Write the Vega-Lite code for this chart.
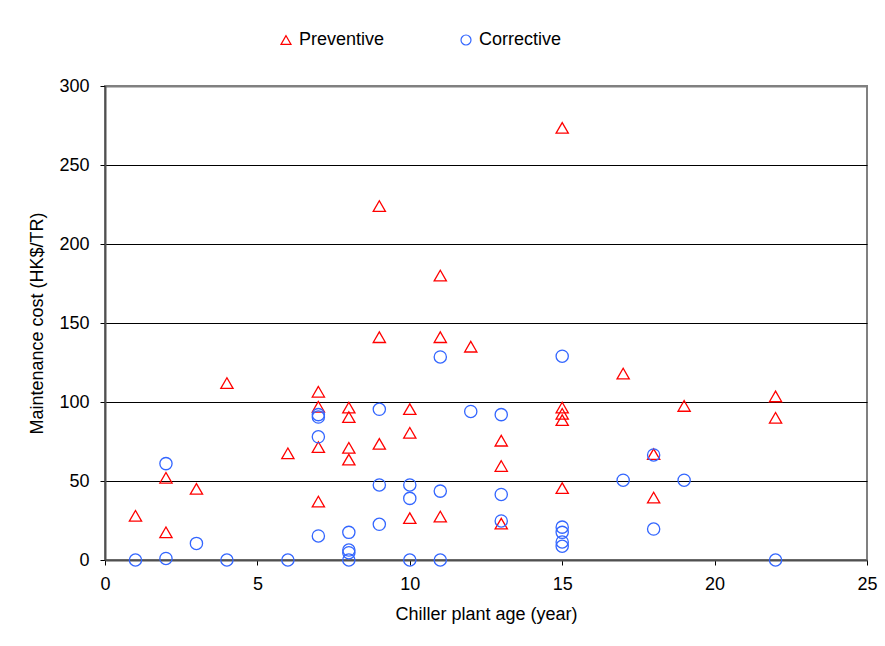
{
  "$schema": "https://vega.github.io/schema/vega-lite/v6.json",
  "width": 762,
  "height": 474,
  "autosize": {"type": "none"},
  "padding": {"left": 105, "top": 86, "right": 18, "bottom": 86},
  "background": "white",
  "config": {
    "font": "Liberation Sans",
    "view": {"stroke": "#808080", "strokeWidth": 2},
    "axis": {
      "labelFont": "Liberation Sans",
      "titleFont": "Liberation Sans",
      "labelFontSize": 18,
      "titleFontSize": 18,
      "labelColor": "black",
      "titleColor": "black",
      "titleFontWeight": "normal",
      "tickColor": "black",
      "tickSize": 5,
      "domainColor": "#505050",
      "domainWidth": 2,
      "labelFlush": false
    },
    "legend": {
      "orient": "none",
      "direction": "horizontal",
      "legendX": 172,
      "legendY": -55,
      "labelFont": "Liberation Sans",
      "labelFontSize": 18,
      "labelColor": "black",
      "symbolSize": 100,
      "symbolStrokeWidth": 1.2,
      "columnPadding": 72,
      "labelOffset": 4,
      "title": null
    }
  },
  "data": {
    "values": [
      {"age": 1, "cost": 28, "type": "Preventive"},
      {"age": 2, "cost": 52, "type": "Preventive"},
      {"age": 2, "cost": 17.5, "type": "Preventive"},
      {"age": 3, "cost": 45, "type": "Preventive"},
      {"age": 4, "cost": 112, "type": "Preventive"},
      {"age": 6, "cost": 67.5, "type": "Preventive"},
      {"age": 7, "cost": 106.5, "type": "Preventive"},
      {"age": 7, "cost": 97, "type": "Preventive"},
      {"age": 7, "cost": 71.5, "type": "Preventive"},
      {"age": 7, "cost": 37, "type": "Preventive"},
      {"age": 8, "cost": 96.5, "type": "Preventive"},
      {"age": 8, "cost": 90.5, "type": "Preventive"},
      {"age": 8, "cost": 71, "type": "Preventive"},
      {"age": 8, "cost": 63.5, "type": "Preventive"},
      {"age": 9, "cost": 224, "type": "Preventive"},
      {"age": 9, "cost": 141, "type": "Preventive"},
      {"age": 9, "cost": 73.5, "type": "Preventive"},
      {"age": 10, "cost": 95.5, "type": "Preventive"},
      {"age": 10, "cost": 80.5, "type": "Preventive"},
      {"age": 10, "cost": 26.5, "type": "Preventive"},
      {"age": 11, "cost": 180, "type": "Preventive"},
      {"age": 11, "cost": 141, "type": "Preventive"},
      {"age": 11, "cost": 27.5, "type": "Preventive"},
      {"age": 12, "cost": 135, "type": "Preventive"},
      {"age": 13, "cost": 75.5, "type": "Preventive"},
      {"age": 13, "cost": 59.5, "type": "Preventive"},
      {"age": 13, "cost": 23, "type": "Preventive"},
      {"age": 15, "cost": 273.5, "type": "Preventive"},
      {"age": 15, "cost": 96.5, "type": "Preventive"},
      {"age": 15, "cost": 92.5, "type": "Preventive"},
      {"age": 15, "cost": 88.5, "type": "Preventive"},
      {"age": 15, "cost": 45.5, "type": "Preventive"},
      {"age": 17, "cost": 118, "type": "Preventive"},
      {"age": 18, "cost": 67, "type": "Preventive"},
      {"age": 18, "cost": 39.5, "type": "Preventive"},
      {"age": 19, "cost": 97.5, "type": "Preventive"},
      {"age": 22, "cost": 103.5, "type": "Preventive"},
      {"age": 22, "cost": 90, "type": "Preventive"},
      {"age": 1, "cost": 0, "type": "Corrective"},
      {"age": 2, "cost": 61, "type": "Corrective"},
      {"age": 2, "cost": 1, "type": "Corrective"},
      {"age": 3, "cost": 10.5, "type": "Corrective"},
      {"age": 4, "cost": 0, "type": "Corrective"},
      {"age": 6, "cost": 0, "type": "Corrective"},
      {"age": 7, "cost": 92, "type": "Corrective"},
      {"age": 7, "cost": 90.5, "type": "Corrective"},
      {"age": 7, "cost": 78, "type": "Corrective"},
      {"age": 7, "cost": 15.2, "type": "Corrective"},
      {"age": 8, "cost": 17.5, "type": "Corrective"},
      {"age": 8, "cost": 6.3, "type": "Corrective"},
      {"age": 8, "cost": 4.6, "type": "Corrective"},
      {"age": 8, "cost": 0, "type": "Corrective"},
      {"age": 9, "cost": 95.4, "type": "Corrective"},
      {"age": 9, "cost": 47.5, "type": "Corrective"},
      {"age": 9, "cost": 22.6, "type": "Corrective"},
      {"age": 10, "cost": 47.5, "type": "Corrective"},
      {"age": 10, "cost": 39, "type": "Corrective"},
      {"age": 10, "cost": 0, "type": "Corrective"},
      {"age": 11, "cost": 128.5, "type": "Corrective"},
      {"age": 11, "cost": 43.6, "type": "Corrective"},
      {"age": 11, "cost": 0, "type": "Corrective"},
      {"age": 12, "cost": 94, "type": "Corrective"},
      {"age": 13, "cost": 92, "type": "Corrective"},
      {"age": 13, "cost": 41.5, "type": "Corrective"},
      {"age": 13, "cost": 24.7, "type": "Corrective"},
      {"age": 15, "cost": 129, "type": "Corrective"},
      {"age": 15, "cost": 20.8, "type": "Corrective"},
      {"age": 15, "cost": 17.5, "type": "Corrective"},
      {"age": 15, "cost": 11.4, "type": "Corrective"},
      {"age": 15, "cost": 8.7, "type": "Corrective"},
      {"age": 17, "cost": 50.5, "type": "Corrective"},
      {"age": 18, "cost": 66.5, "type": "Corrective"},
      {"age": 18, "cost": 19.6, "type": "Corrective"},
      {"age": 19, "cost": 50.5, "type": "Corrective"},
      {"age": 22, "cost": 0, "type": "Corrective"}
    ]
  },
  "mark": {"type": "point", "filled": false, "strokeWidth": 1.3, "opacity": 1},
  "encoding": {
    "x": {
      "field": "age",
      "type": "quantitative",
      "title": "Chiller plant age (year)",
      "scale": {"domain": [0, 25], "nice": false, "zero": true},
      "axis": {
        "values": [0, 5, 10, 15, 20, 25],
        "grid": false,
        "labelPadding": 10,
        "titlePadding": 12,
        "format": "d"
      }
    },
    "y": {
      "field": "cost",
      "type": "quantitative",
      "title": "Maintenance cost (HK$/TR)",
      "scale": {"domain": [0, 300], "nice": false},
      "axis": {
        "values": [0, 50, 100, 150, 200, 250, 300],
        "grid": true,
        "gridColor": {"condition": {"test": "datum.value === 300 || datum.value === 0", "value": "#808080"}, "value": "black"},
        "gridWidth": {"condition": {"test": "datum.value === 300", "value": 2}, "value": 1},
        "gridOpacity": 1,
        "labelPadding": 11,
        "titlePadding": 12,
        "format": "d"
      }
    },
    "shape": {
      "field": "type",
      "type": "nominal",
      "scale": {"domain": ["Preventive", "Corrective"], "range": ["triangle-up", "circle"]}
    },
    "color": {
      "field": "type",
      "type": "nominal",
      "scale": {"domain": ["Preventive", "Corrective"], "range": ["#ff0000", "#3366ff"]}
    },
    "size": {"value": 150}
  }
}
